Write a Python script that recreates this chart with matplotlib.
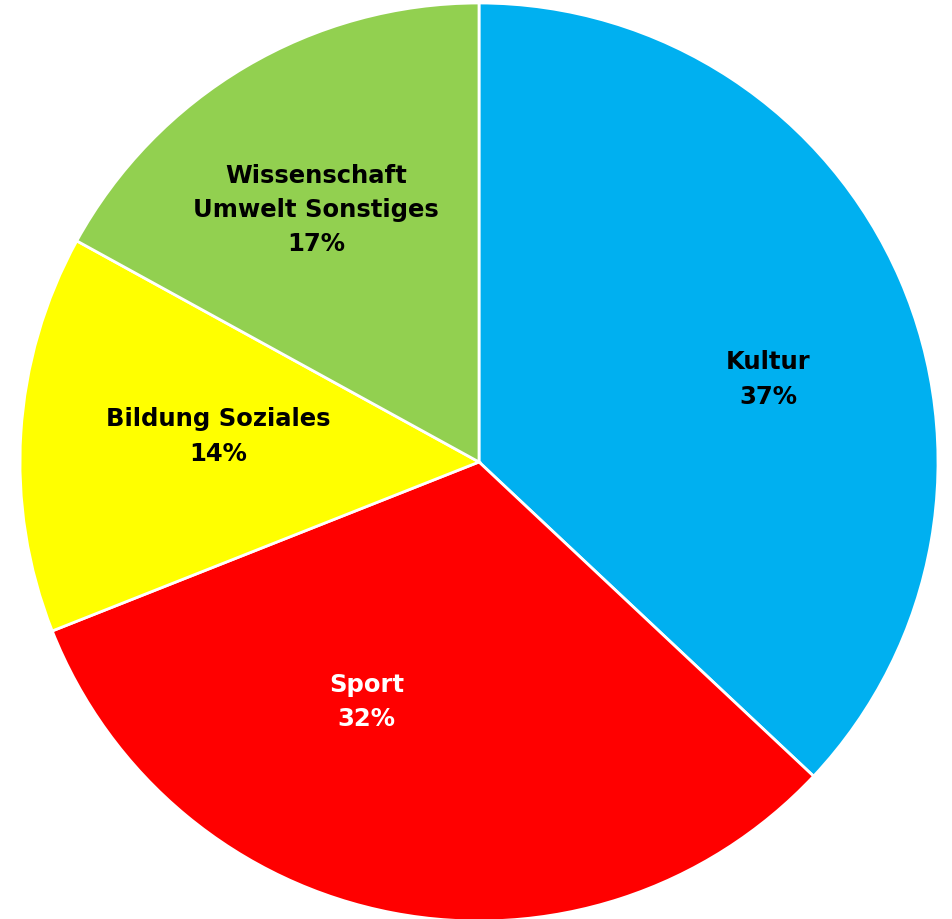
import matplotlib
matplotlib.use("Agg")
import matplotlib.pyplot as plt

# Daten des Kreisdiagramms
labels = ["Kultur", "Sport", "Bildung Soziales", "Wissenschaft\nUmwelt Sonstiges"]
shares = [37, 32, 14, 17]
colors = ["#00B0F0", "#FF0000", "#FFFF00", "#92D050"]
text_colors = ["black", "white", "black", "black"]

# Position der Beschriftungen (in Radius-Einheiten)
label_pos = [(0.63, 0.18), (-0.245, -0.523), (-0.569, 0.056), (-0.355, 0.549)]

fig = plt.figure(figsize=(9.52, 9.19), dpi=100)
ax = fig.add_axes([20 / 952, -2 / 919, 918 / 952, 918 / 919])

ax.pie(shares, colors=colors, startangle=90, counterclock=False,
       wedgeprops=dict(edgecolor="white", linewidth=2))

for lab, val, pos, tc in zip(labels, shares, label_pos, text_colors):
    ax.text(pos[0], pos[1], f"{lab}\n{val}%", ha="center", va="center",
            fontsize=17.5, fontweight="bold", color=tc, family="DejaVu Sans",
            linespacing=1.55)

ax.set_xlim(-1, 1)
ax.set_ylim(-1, 1)
ax.set_aspect("equal")
ax.axis("off")

fig.savefig("out.png", dpi=100)
